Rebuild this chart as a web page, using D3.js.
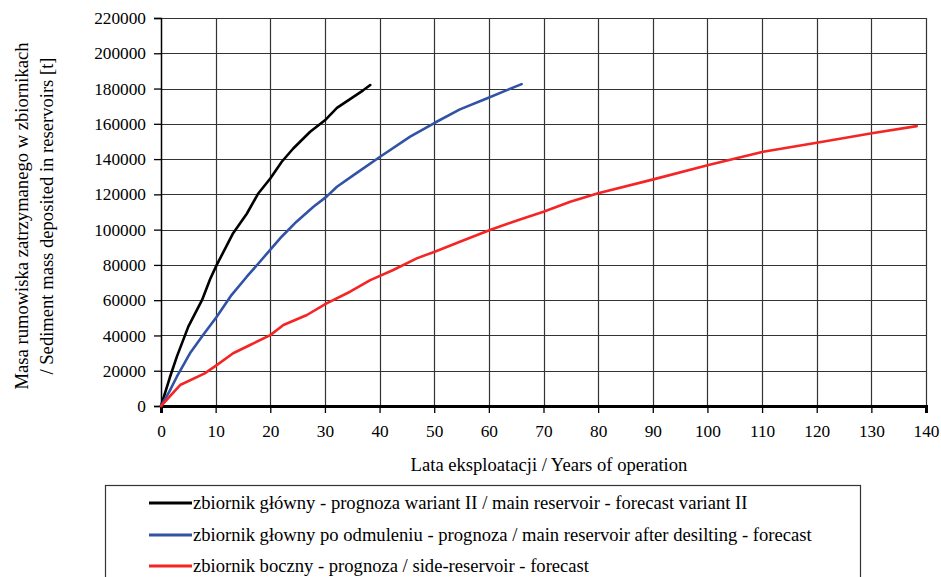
<!DOCTYPE html>
<html><head><meta charset="utf-8">
<script src="https://cdn.jsdelivr.net/npm/d3@7"></script>
<style>html,body{margin:0;padding:0;background:#fff;}svg{display:block;}</style>
</head><body>
<script>
const xTicks = [0,10,20,30,40,50,60,70,80,90,100,110,120,130,140];
const yTicks = [0,20000,40000,60000,80000,100000,120000,140000,160000,180000,200000,220000];

const blackYears = [0,1.6,2.9,5,7.5,9,10.2,13.2,15.7,17.8,20,22.1,24.2,27.3,30,32.2,34.6,37,38.3];
const blackMass  = [0,16000,28000,45000,60000,72000,80000,98000,109000,120500,129000,138500,146000,155500,162000,169000,174000,179000,182000];

const blueYears = [0,1.5,2.9,5.3,7.7,10.2,12.9,15.7,18.1,21.8,24.8,27.9,30.3,32.2,35.5,40.1,45.6,50.1,54.7,59.6,63.3,66];
const blueMass  = [0,8000,16600,29900,40200,50600,62900,73300,81800,95100,104500,113000,118700,124300,131500,141300,152700,160600,168200,174400,179100,182500];

const redYears = [0,3.5,8,10.2,13.2,16.3,20,22.4,26.7,30.3,34.6,38.3,42.5,46.8,50.1,54.7,60.2,65.7,70,74.9,80,90.1,100.2,110.2,120,130.1,138.3];
const redMass  = [0,11900,18500,23200,29900,34600,40200,45900,51600,58200,64800,71400,77100,83700,87500,93100,99800,105800,110100,115800,120600,128500,136600,144200,149300,154600,158700];

const seriesNames = [
  "zbiornik główny - prognoza wariant II / main reservoir - forecast variant II",
  "zbiornik głowny po odmuleniu - prognoza / main reservoir after desilting - forecast",
  "zbiornik boczny - prognoza / side-reservoir - forecast"
];
const seriesColors = ["#000000", "#3153a5", "#f52525"];
const xTitle = "Lata eksploatacji / Years of operation";
const yTitle1 = "Masa rumowiska zatrzymanego w zbiornikach";
const yTitle2 = "/ Sediment mass deposited in reservoirs [t]";

const W = 941, H = 577;
const m = {left: 161, right: 941 - 926, top: 18, bottom: H - 406};
const FONT = '"Liberation Serif"';

const svg = d3.select("body").append("svg").attr("width", W).attr("height", H);

const x = d3.scaleLinear().domain([0,140]).range([m.left, W - m.right]);
const y = d3.scaleLinear().domain([0,220000]).range([H - m.bottom, m.top]);

// grid
const g = svg.append("g");
g.selectAll("line.h").data(yTicks.slice(1)).join("line")
  .attr("x1", x(0)).attr("x2", x(140))
  .attr("y1", d => Math.round(y(d)) + 0.5).attr("y2", d => Math.round(y(d)) + 0.5)
  .attr("stroke", "#333").attr("stroke-width", 1.2);
g.selectAll("line.v").data(xTicks.slice(1)).join("line")
  .attr("y1", y(0)).attr("y2", y(220000))
  .attr("x1", d => Math.round(x(d)) + 0.5).attr("x2", d => Math.round(x(d)) + 0.5)
  .attr("stroke", "#333").attr("stroke-width", 1.2);

// axes
const yAxis = svg.append("g").attr("transform", `translate(${x(0)},0)`)
  .call(d3.axisLeft(y).tickValues(yTicks).tickFormat(d3.format("d")).tickSize(7).tickPadding(8));
const xAxis = svg.append("g").attr("transform", `translate(0,${y(0)})`)
  .call(d3.axisBottom(x).tickValues(xTicks).tickSize(7).tickPadding(12));
[yAxis, xAxis].forEach(a => {
  a.attr("font-family", null).attr("font-size", null);
  a.selectAll("text").style("font-family", FONT).style("font-size", "17.3px").attr("fill", "#000");
  a.selectAll("line").attr("stroke", "#000").attr("stroke-width", 1.3);
});
yAxis.select(".domain").attr("stroke", "#000").attr("stroke-width", 1.5);
xAxis.select(".domain").attr("stroke", "#000").attr("stroke-width", 3);

// lines
const lineGen = d3.line().x(d => x(d[0])).y(d => y(d[1]));
const seriesData = [
  d3.zip(blackYears, blackMass),
  d3.zip(blueYears, blueMass),
  d3.zip(redYears, redMass)
];
svg.append("g").selectAll("path").data(seriesData).join("path")
  .attr("d", lineGen).attr("fill", "none")
  .attr("stroke", (d,i) => seriesColors[i]).attr("stroke-width", 2.6)
  .attr("stroke-linejoin", "round").attr("stroke-linecap", "round");

// titles
const T = (sel) => sel.style("font-family", FONT).style("font-size", "18.6px").attr("fill", "#000");
svg.append("text").attr("x", 549).attr("y", 471).attr("text-anchor", "middle").call(T).text(xTitle);
svg.append("text").attr("transform", "translate(28,216) rotate(-90)").attr("text-anchor", "middle").call(T).text(yTitle1);
svg.append("text").attr("transform", "translate(53,216) rotate(-90)").attr("text-anchor", "middle").call(T).text(yTitle2);

// legend
svg.append("rect").attr("x", 105.5).attr("y", 485.5).attr("width", 755).attr("height", 120)
  .attr("fill", "#fff").attr("stroke", "#333").attr("stroke-width", 1.2);
const leg = svg.append("g").selectAll("g").data(seriesNames).join("g")
  .attr("transform", (d,i) => `translate(0,${[503, 535, 566][i]})`);
leg.append("line").attr("x1", 149).attr("x2", 192).attr("y1", 0).attr("y2", 0)
  .attr("stroke", (d,i) => seriesColors[i]).attr("stroke-width", 3);
leg.append("text").attr("x", 193).attr("y", 6).call(T).text(d => d);
</script>
</body></html>
